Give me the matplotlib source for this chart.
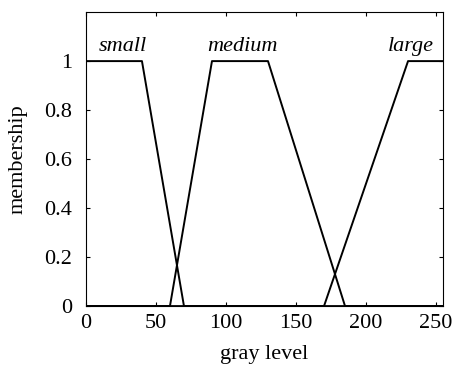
import matplotlib
matplotlib.use('Agg')
import matplotlib.pyplot as plt

# membership function breakpoints (gray level, membership)
small_x = [0, 40, 70, 255]
small_y = [1, 1, 0, 0]
medium_x = [0, 60, 90, 130, 185, 255]
medium_y = [0, 0, 1, 1, 0, 0]
large_x = [0, 170, 230, 255]
large_y = [0, 0, 1, 1]

labels = ['small', 'medium', 'large']
label_x = [26, 112, 232]
label_y = 1.06

plt.rcParams['font.family'] = ['Liberation Serif', 'DejaVu Serif']

fig = plt.figure(figsize=(4.62, 3.67), dpi=100)
ax = fig.add_axes([0.186, 0.166, 0.773, 0.801])

for xs, ys in [(small_x, small_y), (medium_x, medium_y), (large_x, large_y)]:
    ax.plot(xs, ys, color='black', linewidth=1.4)

for name, lx in zip(labels, label_x):
    ax.text(lx, label_y, name, style='italic', fontsize=16, ha='center', va='center')

ax.set_xlim(0, 255)
ax.set_ylim(0, 1.2)
ax.set_xticks([0, 50, 100, 150, 200, 250])
ax.set_yticks([0, 0.2, 0.4, 0.6, 0.8, 1])
ax.set_yticklabels(['0', '0.2', '0.4', '0.6', '0.8', '1'])
ax.tick_params(direction='in', top=True, right=True, length=3, labelsize=16)
ax.tick_params(axis='x', pad=6)
ax.tick_params(axis='y', pad=10)
ax.set_xlabel('gray level', fontsize=16, labelpad=8)
ax.set_ylabel('membership', fontsize=16, labelpad=12)

fig.savefig('out.png', dpi=100)
